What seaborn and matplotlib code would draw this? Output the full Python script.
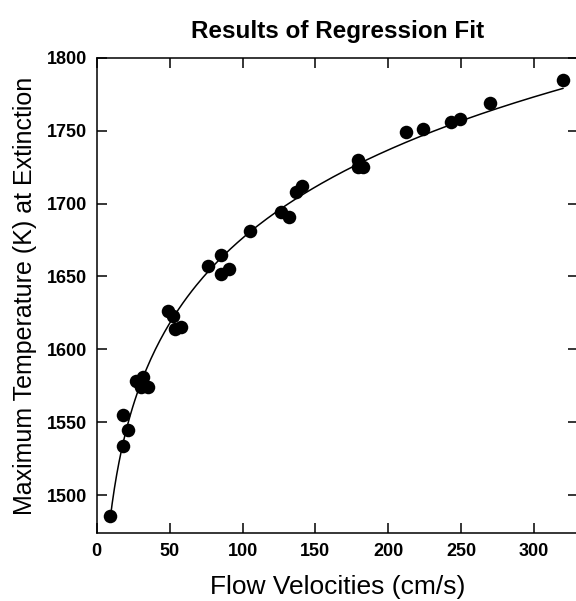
import numpy as np
import pandas as pd
import matplotlib
matplotlib.use("Agg")
import matplotlib.pyplot as plt
import seaborn as sns

# Data
velocity = [9, 18, 21.5, 18, 27, 32, 35, 30.5,
            49, 52, 54, 58, 76, 85, 85.5, 91,
            105, 126.5, 132, 137, 141, 179, 179.5, 183,
            212.5, 223.5, 243, 249, 270, 320]
temperature = [1486, 1534, 1545, 1555, 1578, 1581, 1574, 1574,
               1626, 1623, 1614, 1615, 1657, 1665, 1652, 1655,
               1681, 1694, 1691, 1708, 1712, 1730, 1725, 1725,
               1749, 1751, 1756, 1758, 1769, 1785]

x_ticks = [0, 50, 100, 150, 200, 250, 300]
y_ticks = [1500, 1550, 1600, 1650, 1700, 1750, 1800]

df = pd.DataFrame({"velocity": velocity, "temperature": temperature})

# power-law regression fit, T = a * v^b (least squares on log-log)
b, log_a = np.polyfit(np.log(df["velocity"]), np.log(df["temperature"]), 1)
v_fit = np.linspace(df["velocity"].min(), df["velocity"].max(), 200)
fit = pd.DataFrame({"velocity": v_fit, "temperature": np.exp(log_a) * v_fit ** b})

sns.set_style("ticks")
plt.rcParams["font.family"] = ["Liberation Sans", "DejaVu Sans"]
plt.rcParams["text.color"] = "black"
plt.rcParams["axes.labelcolor"] = "black"

fig = plt.figure(figsize=(5.76, 6.01), dpi=100)
ax = fig.add_axes([0.168, 0.113, 0.835, 0.791])

sns.lineplot(data=fit, x="velocity", y="temperature", ax=ax,
             color="black", linewidth=1.1)
sns.scatterplot(data=df, x="velocity", y="temperature", ax=ax,
                color="black", s=95, linewidth=0, zorder=3)

ax.set_xlim(0, 330)
ax.set_ylim(1474, 1800)
ax.set_xticks(x_ticks)
ax.set_yticks(y_ticks)
ax.tick_params(direction="in", length=7, width=1.1, top=True, right=True,
               labelsize=13, pad=7, colors="black")
for lbl in ax.get_xticklabels() + ax.get_yticklabels():
    lbl.set_fontweight("bold")
for side in ["left", "bottom", "top"]:
    ax.spines[side].set_linewidth(1.1)
    ax.spines[side].set_color("black")
ax.spines["right"].set_visible(False)

ax.set_xlabel("Flow Velocities (cm/s)", fontsize=19, labelpad=11)
ax.set_ylabel("Maximum Temperature (K) at Extinction", fontsize=18, labelpad=7)
ax.set_title("Results of Regression Fit", fontsize=17.5, fontweight="bold", pad=14)

plt.savefig("out.png", dpi=100)
plt.close()
